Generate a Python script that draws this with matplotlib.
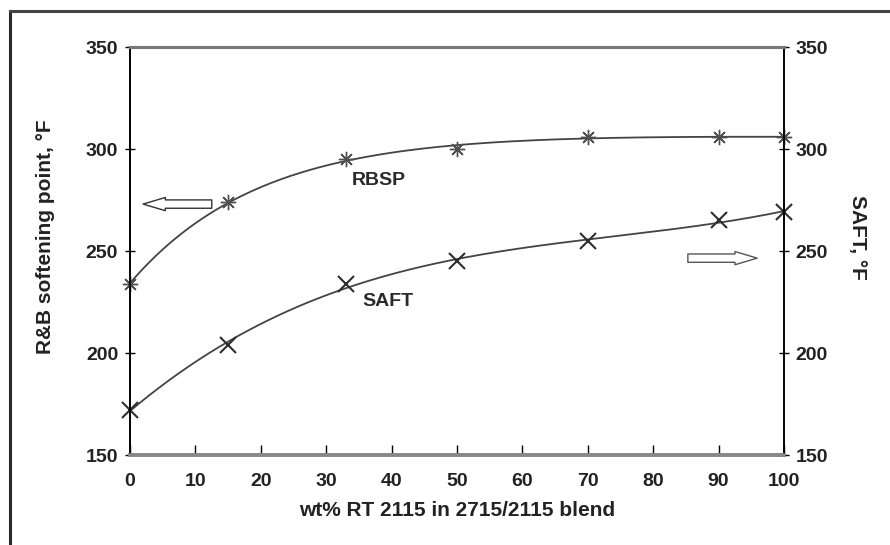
import numpy as np
import matplotlib
matplotlib.use("Agg")
import matplotlib.pyplot as plt
from matplotlib.lines import Line2D

# wt% RT 2115 in the blend
blend_pct = [0, 15, 33, 50, 70, 90, 100]
# R&B softening point, F
rbsp = [234, 274, 295, 300, 306, 306, 306]
# shear adhesion failure temperature, F
saft = [172, 204, 234, 245, 255, 265, 269]

y_ticks = [150, 200, 250, 300, 350]
x_ticks = [0, 10, 20, 30, 40, 50, 60, 70, 80, 90, 100]

plt.rcParams['font.family'] = ['Liberation Sans', 'DejaVu Sans']
plt.rcParams['font.weight'] = 'bold'
plt.rcParams['axes.labelweight'] = 'bold'

fig = plt.figure(figsize=(8.9, 5.45), dpi=100)
ax = fig.add_axes([130 / 890, 1 - 455 / 545, 654 / 890, 408 / 545])
ax2 = ax.twinx()


def saturating_fit(x, y, xs, scale=20.0):
    # least squares trend: constant + linear + saturating term
    x = np.asarray(x, float)
    basis = lambda t: np.column_stack([np.ones_like(t), t, np.exp(-t / scale)])
    coef, *_ = np.linalg.lstsq(basis(x), np.asarray(y, float), rcond=None)
    return basis(xs) @ coef


def cubic_fit(x, y, xs):
    return np.polyval(np.polyfit(x, y, 3), xs)


xs = np.linspace(0, 100, 200)
rbsp_curve = saturating_fit(blend_pct, rbsp, xs)
saft_curve = cubic_fit(blend_pct, saft, xs)

for vals, curve, mk, ms, mew, mc in [(rbsp, rbsp_curve, (8, 2, 0), 11, 1.0, '#505050'),
                                     (saft, saft_curve, 'x', 12, 1.5, '#2e2e2e')]:
    ax.plot(xs, curve, color='#444444', lw=1.3, zorder=2)
    ax.plot(blend_pct, vals, linestyle='none', marker=mk, markersize=ms,
            markeredgewidth=mew, color=mc, zorder=3, clip_on=False)

ax.set_xlim(0, 100)
ax.set_ylim(150, 350)
ax2.set_ylim(150, 350)
ax.set_xticks(x_ticks)
ax.set_yticks(y_ticks)
ax2.set_yticks(y_ticks)

ax.tick_params(axis='y', direction='inout', length=7, width=1, pad=5,
               labelsize=14, labelcolor='#222222')
ax2.tick_params(axis='y', direction='inout', length=7, width=1, pad=5,
                labelsize=14, labelcolor='#222222')
ax.tick_params(axis='x', direction='in', length=7, width=1, pad=13,
               labelsize=14, labelcolor='#222222')

for a in (ax, ax2):
    a.spines['left'].set_linewidth(1.2)
    a.spines['right'].set_linewidth(1.2)
    a.spines['top'].set_linewidth(2.2)
    a.spines['top'].set_color('#777777')
    a.spines['bottom'].set_linewidth(2.6)
    a.spines['bottom'].set_color('#888888')

ax.set_xlabel('wt% RT 2115 in 2715/2115 blend', fontsize=15, color='#222222', labelpad=8)
ax.set_ylabel('R&B softening point, °F', fontsize=15, color='#222222')
ax.yaxis.set_label_coords(-0.115, 0.534)
ax2.set_ylabel('SAFT, °F', fontsize=15, color='#222222', rotation=270, va='bottom')
ax2.yaxis.set_label_coords(1.098, 0.534)

ax.text(38, 284.5, 'RBSP', fontsize=14, color='#2a2a2a', ha='center', va='center')
ax.text(39.5, 225, 'SAFT', fontsize=14, color='#2a2a2a', ha='center', va='center')

arrow_style = 'simple,head_length=1.6,head_width=0.95,tail_width=0.6'
ax.annotate('', xy=(2, 273), xytext=(12.5, 273),
            arrowprops=dict(arrowstyle=arrow_style, fc='white', ec='#333333',
                            lw=1.0, shrinkA=0, shrinkB=0, mutation_scale=10))
ax.annotate('', xy=(95.9, 246.5), xytext=(85.3, 246.5),
            arrowprops=dict(arrowstyle=arrow_style, fc='white', ec='#555555',
                            lw=1.0, shrinkA=0, shrinkB=0, mutation_scale=10))

# outer border of the scanned figure
fig.add_artist(Line2D([10 / 890, 10 / 890], [0, 1 - 11 / 545], color='#2a2a2a', lw=2.2))
fig.add_artist(Line2D([10 / 890, 1], [1 - 11 / 545, 1 - 11 / 545], color='#444444', lw=2.2))

fig.savefig('out.png', dpi=100)
